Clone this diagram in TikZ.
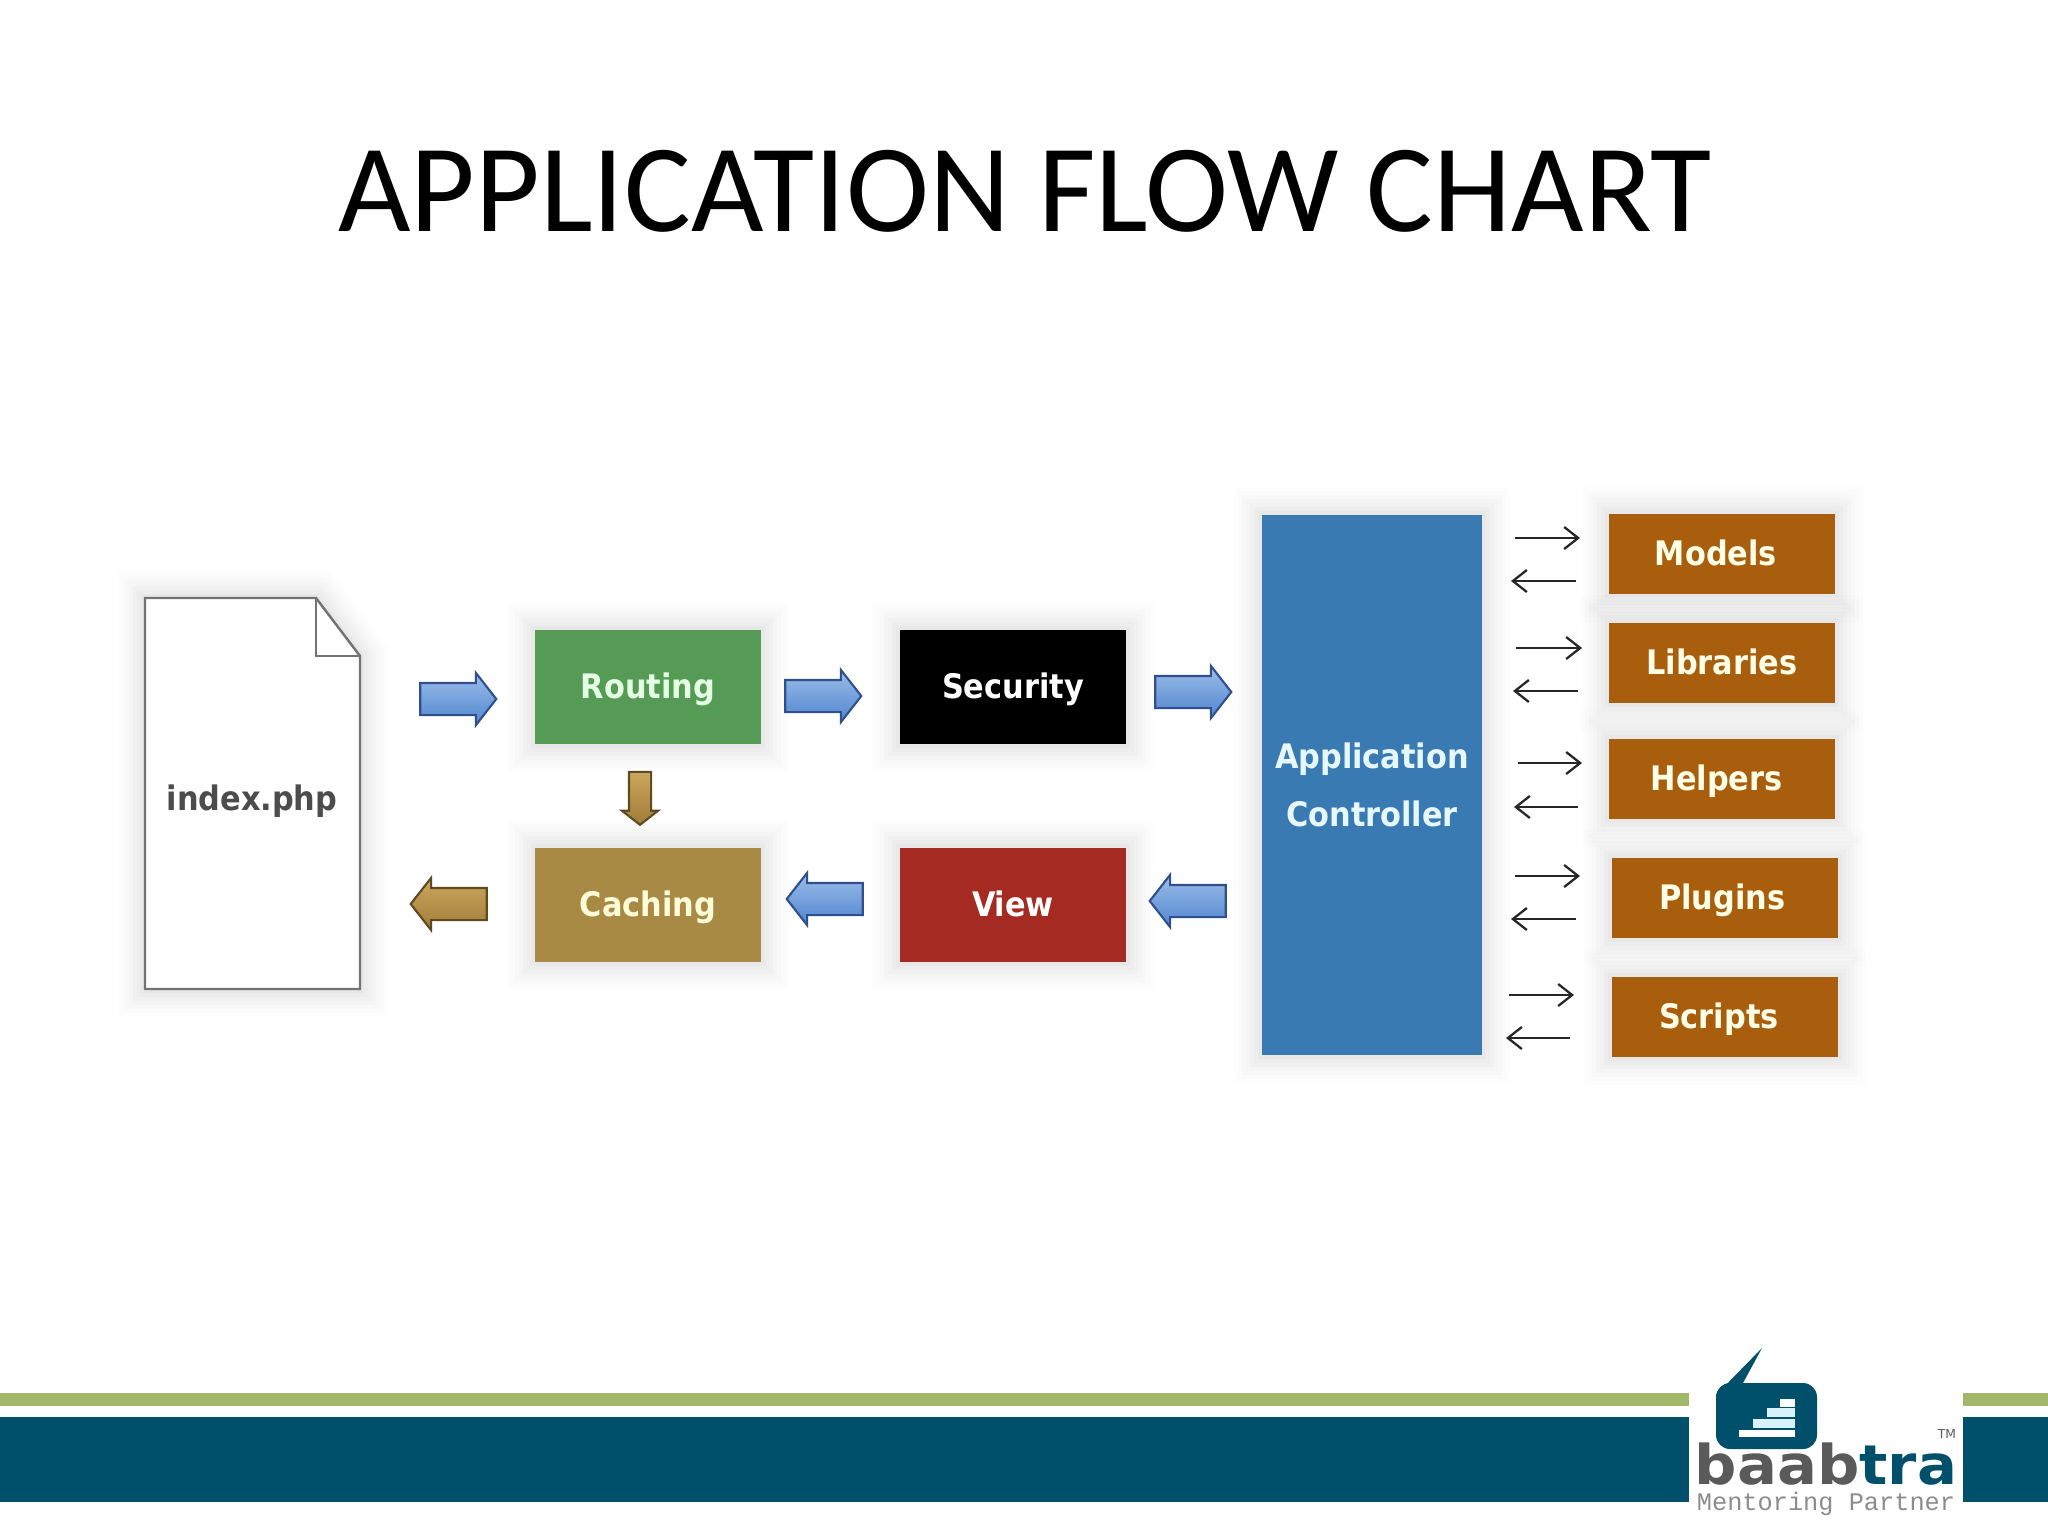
\documentclass[tikz,border=0pt]{standalone}
\usepackage{fontspec}
\setmainfont{Carlito}
\newfontfamily\labelfont{DejaVu Sans Condensed}
\newfontfamily\logofont{DejaVu Sans}
\newfontfamily\tagfont{Liberation Mono}
\usetikzlibrary{arrows.meta}
\usetikzlibrary{shapes.arrows}

\definecolor{bandteal}{HTML}{00506B}
\definecolor{bandgreen}{HTML}{A3B76B}
\definecolor{routinggreen}{HTML}{559B55}
\definecolor{cachingtan}{HTML}{A88A45}
\definecolor{viewred}{HTML}{A52A22}
\definecolor{appblue}{HTML}{3A7AB2}
\definecolor{partorange}{HTML}{A85E0C}
\definecolor{logogray}{HTML}{5A5A5A}
\definecolor{arrowlight}{HTML}{9DBDE8}
\definecolor{arrowblue}{HTML}{4F86D0}
\definecolor{arrowedge}{HTML}{2F4F8F}
\definecolor{tanlight}{HTML}{CBA75E}
\definecolor{tandark}{HTML}{A07C38}

\tikzset{
    softshadow/.style={
        preaction={draw=black, line width=.56cm, opacity=.006},
        preaction={draw=black, line width=.48cm, opacity=.008},
        preaction={draw=black, line width=.40cm, opacity=.010},
        preaction={draw=black, line width=.32cm, opacity=.012},
        preaction={draw=black, line width=.24cm, opacity=.014},
        preaction={draw=black, line width=.16cm, opacity=.016},
        preaction={draw=black, line width=.08cm, opacity=.018}},
    box/.style={softshadow, fill=#1, inner sep=0, minimum width=2.25cm, minimum height=1.13cm,
        text=white, text height=.23cm, text depth=0pt,
        font=\labelfont\bfseries\fontsize{9.6}{16.5}\selectfont, align=center},
    part/.style={box=partorange, minimum height=.8cm, text=white!90!yellow},
    blockarrow/.style={shape=single arrow, inner xsep=0, inner ysep=.15cm, minimum height=.76cm,
        single arrow head extend=.1cm, single arrow tip angle=104, line width=.6pt},
    bluearrow/.style={blockarrow, draw=arrowedge, top color=arrowlight, bottom color=arrowblue},
    tanarrow/.style={blockarrow, draw=tandark!60!black, top color=tanlight, bottom color=tandark}
}
\tikzset{
    thinarrow/.style={-{Straight Barb[length=.14cm, width=.22cm]}, draw=black!85, line width=.65pt}
}

\begin{document}
\begin{tikzpicture}[x=.01cm, y=-.01cm]
        \useasboundingbox (0,0) rectangle (2048,1536);
        \node (title) at (1025,191) {\fontsize{35.6}{40}\selectfont APPLICATION FLOW CHART};

        % file
        \draw[softshadow, fill=white, draw=black!55, line width=.7pt] (145,598) -- (316,598) -- (360,656) -- (360,989) -- (145,989) -- cycle;
        \draw[draw=black!55, line width=.7pt] (316,598) -- (316,656) -- (360,656);
        \node (index) at (252,801) [font=\labelfont\bfseries\fontsize{9.6}{13}\selectfont, text=black!70] {index.php};

        % boxes
        \node (routing) at (648,687) [box=routinggreen, text=green!10!white] {Routing};
        \node (security) at (1013,687) [box=black] {Security};
        \node (caching) at (648,905) [box=cachingtan, text=yellow!15!white] {Caching};
        \node (view) at (1013,905) [box=viewred] {View};
        \node (app) at (1372,785) [box=appblue, minimum width=2.19cm, minimum height=5.4cm, text=cyan!10!white, text height=, text depth=] {Application\\Controller};

        \node (models) at (1722,554) [part] {Models\kern3.5pt};
        \node (libraries) at (1722,663) [part] {Libraries};
        \node (helpers) at (1722,779) [part] {Helpers\kern3pt};
        \node (plugins) at (1725,898) [part] {Plugins\kern1.5pt};
        \node (scripts) at (1725,1017) [part] {Scripts\kern3.5pt};

        % block arrows
        \node (a1) at (452,699) [bluearrow] {};
        \node (a2) at (817,696) [bluearrow] {};
        \node (a3) at (1187,692) [bluearrow] {};
        \node (a4) at (1194,901) [bluearrow, shape border rotate=180] {};
        \node (a5) at (831,899) [bluearrow, shape border rotate=180] {};
        \node (a6) at (455,904) [tanarrow, shape border rotate=180] {};
        \node (a7) at (640,794) [tanarrow, shape border rotate=270, inner xsep=.1cm, inner ysep=0, minimum height=.53cm,
            single arrow head extend=.07cm, top color=tanlight, bottom color=tandark] {};

        % small arrows
        \coordinate (mo1) at (1515,538); \coordinate (mo2) at (1580,538);
        \coordinate (mo3) at (1576,581); \coordinate (mo4) at (1511,581);
        \coordinate (li1) at (1516,648); \coordinate (li2) at (1582,648);
        \coordinate (li3) at (1578,691); \coordinate (li4) at (1513,691);
        \coordinate (he1) at (1518,763); \coordinate (he2) at (1582,763);
        \coordinate (he3) at (1578,807); \coordinate (he4) at (1514,807);
        \coordinate (pl1) at (1515,876); \coordinate (pl2) at (1580,876);
        \coordinate (pl3) at (1576,919); \coordinate (pl4) at (1511,919);
        \coordinate (sc1) at (1509,995); \coordinate (sc2) at (1574,995);
        \coordinate (sc3) at (1570,1038); \coordinate (sc4) at (1506,1038);
        \draw[thinarrow] (mo1) -- (mo2);
        \draw[thinarrow] (mo3) -- (mo4);
        \draw[thinarrow] (li1) -- (li2);
        \draw[thinarrow] (li3) -- (li4);
        \draw[thinarrow] (he1) -- (he2);
        \draw[thinarrow] (he3) -- (he4);
        \draw[thinarrow] (pl1) -- (pl2);
        \draw[thinarrow] (pl3) -- (pl4);
        \draw[thinarrow] (sc1) -- (sc2);
        \draw[thinarrow] (sc3) -- (sc4);

        % footer
        \fill[bandgreen] (0,1393) rectangle (1689,1406);
        \fill[bandgreen] (1963,1393) rectangle (2048,1406);
        \fill[bandteal] (0,1417) rectangle (1689,1502);
        \fill[bandteal] (1963,1417) rectangle (2048,1502);

        % logo
        \node (baabtra) at (1826,1484) [anchor=base, font=\logofont\bfseries\fontsize{15.6}{18}\selectfont, xscale=1.08, inner sep=0] {\textcolor{logogray}{baab}\textcolor{bandteal}{tra}};
        \fill[bandteal] (1716,1400) -- (1716,1395) -- (1762,1348) -- (1743,1383) -- (1743,1400) -- cycle;
        \fill[bandteal, rounded corners=.14cm] (1716,1383) rectangle (1817,1449);
        \fill[white] (1739,1430) rectangle (1795,1437);
        \fill[cyan!15!white] (1753,1419) rectangle (1795,1428);
        \fill[cyan!15!white] (1767,1408) rectangle (1795,1417);
        \fill[white] (1780,1399) rectangle (1795,1407);
        \node (tm) at (1947,1434) [font=\logofont\fontsize{3.5}{4}\selectfont, text=logogray, inner sep=0] {TM};
        \node (tagline) at (1826,1504) [font=\tagfont\fontsize{7.2}{9}\selectfont, text=black!45, inner sep=0] {Mentoring Partner};
    \end{tikzpicture}
\end{document}
